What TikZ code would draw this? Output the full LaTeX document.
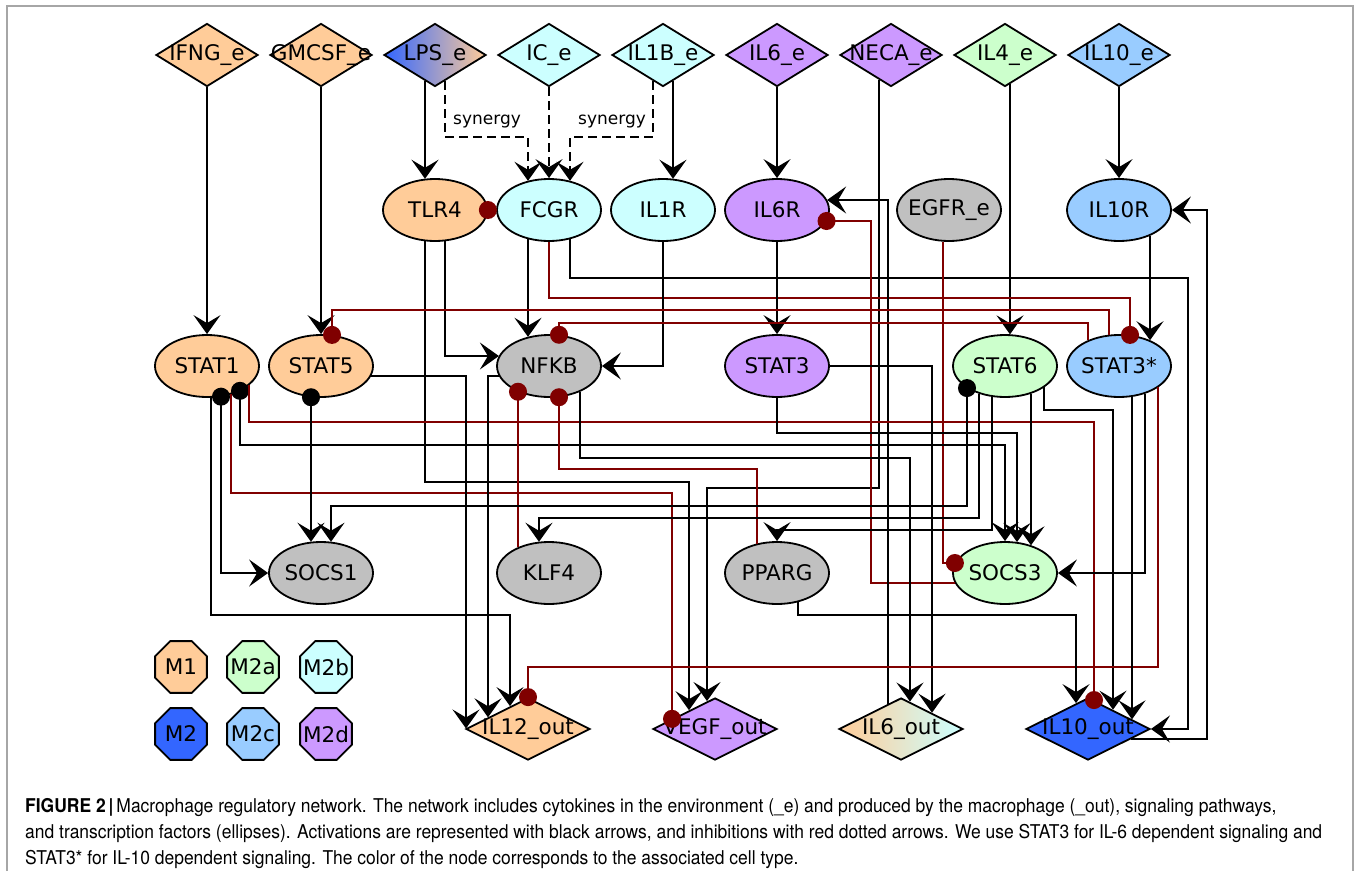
\documentclass[tikz,border=0pt]{standalone}
\usepackage{fontspec}
\setmainfont{DejaVu Sans}
\newfontfamily\capfont{TeX Gyre Heros}
\usetikzlibrary{shapes.geometric,arrows.meta,calc}

\definecolor{mOne}{HTML}{FFCC99}
\definecolor{mTwo}{HTML}{3366FF}
\definecolor{mTwoA}{HTML}{CCFFCC}
\definecolor{mTwoB}{HTML}{CCFFFF}
\definecolor{mTwoC}{HTML}{99CCFF}
\definecolor{mTwoD}{HTML}{CC99FF}
\definecolor{nodegray}{HTML}{C0C0C0}
\definecolor{inhred}{HTML}{800000}

\newcommand\ntxt[1]{\makebox[0pt]{#1}}
\newsavebox\capbox

\tikzset{
  declare function={eb(\d)=31.8*sqrt(1-(\d/52.8)^2); ew(\d)=52.8*sqrt(1-(\d/31.8)^2);
    db(\d)=32.5*(1-abs(\d)/52); ob(\d)=32*(1-abs(\d)/63); oe(\d)=63*(1-abs(\d)/32);},
  env/.style={diamond, draw, line width=1.8pt, minimum width=102pt, minimum height=63pt,
    inner sep=0pt, font=\fontsize{21.5}{24}\selectfont},
  tf/.style={ellipse, draw, line width=1.8pt, minimum width=104pt, minimum height=62pt,
    inner sep=0pt, font=\fontsize{21.5}{24}\selectfont},
  outd/.style={diamond, draw, line width=1.8pt, minimum width=124pt, minimum height=62pt,
    inner sep=0pt, font=\fontsize{21.5}{24}\selectfont},
  celltype/.style={regular polygon, regular polygon sides=8, draw, line width=1.8pt,
    minimum size=56pt, inner sep=0pt, font=\fontsize{21.5}{24}\selectfont},
  act/.style={draw, line width=1.8pt, -{Stealth[length=19pt,width=27pt,inset=8pt]}},
  syn/.style={act, dash pattern=on 9pt off 5pt},
  inh/.style={draw=inhred, line width=1.8pt, -{Circle[length=18pt]}, shorten >=-9pt},
  fbk/.style={draw, line width=1.8pt, {Circle[length=18pt]}-{Stealth[length=19pt,width=27pt,inset=8pt]},
    shorten <=-9pt},
  synlbl/.style={font=\fontsize{17}{20}\selectfont, inner sep=0pt},
  capline/.style={anchor=base west, inner sep=0pt, font=\capfont\fontsize{19}{22}\selectfont}
}

\begin{document}
\begin{tikzpicture}[x=1pt,y=-1pt]
\useasboundingbox (0,0) rectangle (1354,872);
\draw[gray!70, line width=1.4pt] (7,871) -- (7,6) -- (1353,6) -- (1353,871);

% cytokines in the environment
\node[env, fill=mOne] (IFNG) at (207,55) {\ntxt{IFNG\_e}};
\node[env, fill=mOne] (GMCSF) at (321,55) {\ntxt{GMCSF\_e}};
\node[env, left color=mTwo, right color=mOne] (LPS) at (435,55) {\ntxt{LPS\_e}};
\node[env, fill=mTwoB] (IC) at (549,55) {\ntxt{IC\_e}};
\node[env, fill=mTwoB] (IL1B) at (663,55) {\ntxt{IL1B\_e}};
\node[env, fill=mTwoD] (IL6e) at (777,55) {\ntxt{IL6\_e}};
\node[env, fill=mTwoD] (NECA) at (891,55) {\ntxt{NECA\_e}};
\node[env, fill=mTwoA] (IL4) at (1005,55) {\ntxt{IL4\_e}};
\node[env, fill=mTwoC] (IL10e) at (1119,55) {\ntxt{IL10\_e}};

% receptors
\node[tf, fill=mOne] (TLR4) at (435,210) {\ntxt{TLR4}};
\node[tf, fill=mTwoB] (FCGR) at (549,210) {\ntxt{FCGR}};
\node[tf, fill=mTwoB] (IL1R) at (663,210) {\ntxt{IL1R}};
\node[tf, fill=mTwoD] (IL6R) at (777,210) {\ntxt{IL6R}};
\node[tf, fill=nodegray] (EGFR) at (949,210) {\ntxt{EGFR\_e}};
\node[tf, fill=mTwoC] (IL10R) at (1119,210) {\ntxt{IL10R}};

% transcription factors
\node[tf, fill=mOne] (STAT1) at (207,366) {\ntxt{STAT1}};
\node[tf, fill=mOne] (STAT5) at (321,366) {\ntxt{STAT5}};
\node[tf, fill=nodegray] (NFKB) at (549,366) {\ntxt{NFKB}};
\node[tf, fill=mTwoD] (STAT3) at (777,366) {\ntxt{STAT3}};
\node[tf, fill=mTwoA] (STAT6) at (1005,366) {\ntxt{STAT6}};
\node[tf, fill=mTwoC] (STAT3s) at (1119,366) {\ntxt{STAT3*}};

\node[tf, fill=nodegray] (SOCS1) at (321,573) {\ntxt{SOCS1}};
\node[tf, fill=nodegray] (KLF4) at (549,573) {\ntxt{KLF4}};
\node[tf, fill=nodegray] (PPARG) at (777,573) {\ntxt{PPARG}};
\node[tf, fill=mTwoA] (SOCS3) at (1005,573) {\ntxt{SOCS3}};

% produced cytokines
\node[outd, fill=mOne] (IL12) at (528,729) {\ntxt{IL12\_out}};
\node[outd, fill=mTwoD] (VEGF) at (715,729) {\ntxt{VEGF\_out}};
\node[outd, left color=mOne, right color=mTwoB] (IL6o) at (901,729) {\ntxt{IL6\_out}};
\node[outd, fill=mTwo] (IL10o) at (1088,729) {\ntxt{IL10\_out}};

% cell types
\node[celltype, fill=mOne] (M1) at (181,667) {\ntxt{M1}};
\node[celltype, fill=mTwoA] (M2a) at (253,667) {\ntxt{M2a}};
\node[celltype, fill=mTwoB] (M2b) at (326,667) {\ntxt{M2b}};
\node[celltype, fill=mTwo] (M2) at (181,734) {\ntxt{M2}};
\node[celltype, fill=mTwoC] (M2c) at (253,734) {\ntxt{M2c}};
\node[celltype, fill=mTwoD] (M2d) at (326,734) {\ntxt{M2d}};

% from the environment
\draw[act] (IFNG) -- (STAT1);
\draw[act] (GMCSF) -- (STAT5);
\draw[act] ($(LPS)+(-10,{db(10)})$) -- ($(TLR4)+(-10,{-eb(10)})$);
\draw[syn] ($(LPS)+(10,{db(10)})$) |- (528,137) -- ($(FCGR)+(-21,{-eb(21)})$);
\draw[syn] (IC) -- (FCGR);
\draw[syn] ($(IL1B)+(-10,{db(10)})$) |- (570,137) -- ($(FCGR)+(21,{-eb(21)})$);
\node[synlbl] (syn1) at (487,122) {synergy};
\node[synlbl] (syn2) at (612,122) {synergy};
\draw[act] ($(IL1B)+(10,{db(10)})$) -- ($(IL1R)+(10,{-eb(10)})$);
\draw[act] (IL6e) -- (IL6R);
\draw[act] ($(NECA)+(-12,{db(12)})$) |- (707,488) -- ($(VEGF)+(-8,{-ob(8)})$);
\draw[act] ($(IL4)+(5,{db(5)})$) -- ($(STAT6)+(5,{-eb(5)})$);
\draw[act] (IL10e) -- (IL10R);

% receptors
\draw[inh] (FCGR) -- (TLR4);
\draw[act] ($(TLR4)+(10,{eb(10)})$) |- ($(NFKB)+({-ew(10)},-10)$);
\draw[act] ($(TLR4)+(-10,{eb(10)})$) |- (689,482) -- ($(VEGF)+(-26,{-ob(26)})$);
\draw[act] ($(FCGR)+(-21,{eb(21)})$) -- ($(NFKB)+(-21,{-eb(21)})$);
\draw[act] ($(FCGR)+(21,{eb(21)})$) |- (1188,278) |- (IL10o);
\draw[inh] (FCGR) |- (1130,298) -- ($(STAT3s)+(11,{-eb(11)})$);
\draw[act] (IL1R) |- (NFKB);
\draw[act] (IL6R) -- (STAT3);
\draw[inh] ($(SOCS3)+({-ew(10)},10)$) -| (871,221) -- ($(IL6R)+({ew(11)},11)$);
\draw[act] ($(IL6o)+(-13,{-ob(13)})$) |- ($(IL6R)+({ew(10)},-10)$);
\draw[inh] ($(EGFR)+(-6,{eb(6)})$) |- ($(SOCS3)+({-ew(10)},-10)$);
\draw[act] ($(IL10R)+(31,{eb(31)})$) -- ($(STAT3s)+(31,{-eb(31)})$);
\draw[act] ($(IL10o)+({oe(10)},10)$) -| (1207,210) -- (IL10R);

% STAT3* feedback
\draw[inh] ($(STAT3s)+(-10,{-eb(10)})$) |- (332,310) -- ($(STAT5)+(11,{-eb(11)})$);
\draw[inh] ($(STAT3s)+(-31,{-eb(31)})$) |- (559,323) -- ($(NFKB)+(10,{-eb(10)})$);

% STAT1 and STAT5
\draw[fbk] ($(STAT1)+(14,{eb(14)})$) |- (SOCS1);
\draw[fbk] ($(STAT1)+(33,{eb(33)})$) |- (1005,445) -- (SOCS3);
\draw[act] ($(STAT1)+(4,{eb(4)})$) |- (510,615) -- ($(IL12)+(-18,{-ob(18)})$);
\draw[inh] ($(STAT1)+(24,{eb(24)})$) |- (672,493) -- ($(VEGF)+(-43,{-ob(43)})$);
\draw[inh] ($(STAT1)+(42,{eb(42)})$) |- (1094,422) -- ($(IL10o)+(6,{-ob(6)})$);
\draw[fbk] ($(STAT5)+(-10,{eb(10)})$) -- ($(SOCS1)+(-10,{-eb(10)})$);
\draw[act] ($(STAT5)+({ew(10)},10)$) -| ($(IL12)+(-62,{-ob(62)})$);

% NFKB
\draw[act] ($(NFKB)+({-ew(10)},10)$) -| ($(IL12)+(-40,{-ob(40)})$);
\draw[inh] ($(KLF4)+(-31,{-eb(31)})$) -- ($(NFKB)+(-31,{eb(31)})$);
\draw[inh] ($(PPARG)+(-20,{-eb(20)})$) |- (559,469) -- ($(NFKB)+(10,{eb(10)})$);
\draw[act] ($(NFKB)+(31,{eb(31)})$) |- (910,458) -- ($(IL6o)+(9,{-ob(9)})$);

% STAT3
\draw[act] (STAT3) -| ($(IL6o)+(31,{-ob(31)})$);
\draw[act] (STAT3) |- (1017,433) -- ($(SOCS3)+(12,{-eb(12)})$);

% STAT6
\draw[fbk] ($(STAT6)+(-38,{eb(38)})$) |- (331,506) -- ($(SOCS1)+(10,{-eb(10)})$);
\draw[act] ($(STAT6)+(-26,{eb(26)})$) |- (539,518) -- ($(KLF4)+(-10,{-eb(10)})$);
\draw[act] ($(STAT6)+(-13,{eb(13)})$) |- (777,530) -- (PPARG);
\draw[act] ($(STAT6)+(26,{eb(26)})$) -- ($(SOCS3)+(26,{-eb(26)})$);
\draw[act] ($(STAT6)+(39,{eb(39)})$) |- (1113,410) -- ($(IL10o)+(25,{-ob(25)})$);

% STAT3*
\draw[inh] ($(STAT3s)+(39,{eb(39)})$) |- (528,667) -- (IL12);
\draw[act] ($(STAT3s)+(13,{eb(13)})$) -- ($(IL10o)+(44,{-ob(44)})$);
\draw[act] ($(STAT3s)+(26,{eb(26)})$) |- (SOCS3);

% PPARG
\draw[act] ($(PPARG)+(21,{eb(21)})$) |- (1076,615) -- ($(IL10o)+(-12,{-ob(12)})$);

% caption
\node[capline] (cap2) at (25,838) {\sbox\capbox{and transcription factors (ellipses). Activations are represented with black arrows, and inhibitions with red dotted arrows. We use STAT3 for IL-6 dependent signaling and}%
  \pgfmathsetmacro\capsx{1297/\the\wd\capbox}\xdef\capsxg{\capsx}\scalebox{\capsx}[1]{\usebox\capbox}};
\node[capline] (cap1) at (25,812) {\scalebox{\capsxg}[1]{\textbf{FIGURE 2\,|}\,Macrophage regulatory network. The network includes cytokines in the environment (\_e) and produced by the macrophage (\_out), signaling pathways,}};
\node[capline] (cap3) at (25,864) {\scalebox{\capsxg}[1]{STAT3* for IL-10 dependent signaling. The color of the node corresponds to the associated cell type.}};
\end{tikzpicture}
\end{document}
